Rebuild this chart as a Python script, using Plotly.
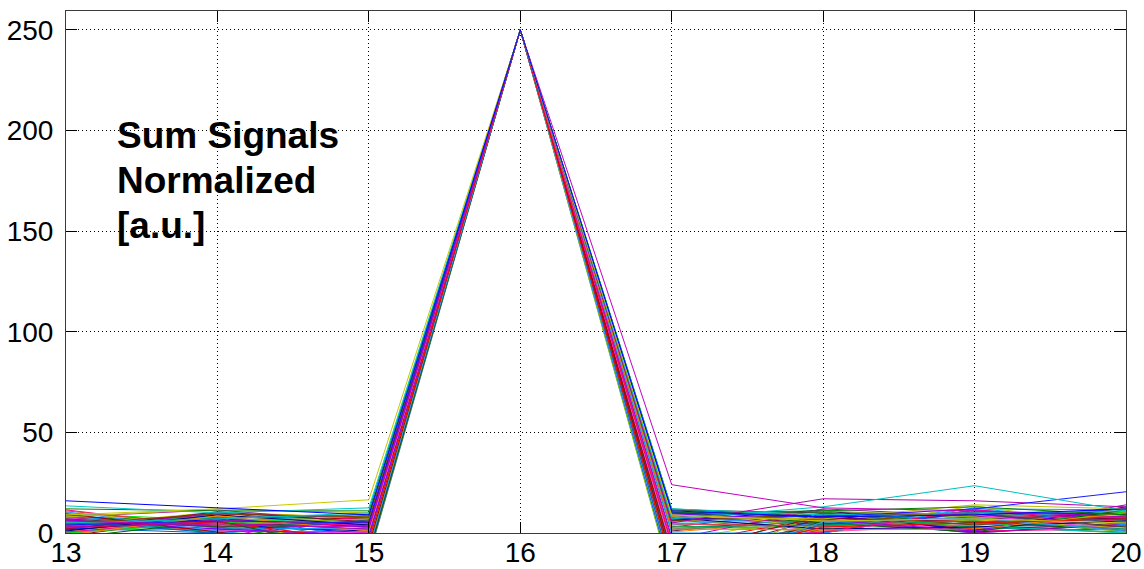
import plotly.graph_objects as go

# Sample positions along the x axis
x_positions = [13, 14, 15, 16, 17, 18, 19, 20]

# Normalized sum-signal value of every trace at each x position
at_13 = [16.0, 9.0, 6.0, 5.0, 4.0, 3.0, 13.5, 12.0,
         8.0, 2.5, 7.0, -1.0, 10.5, 4.5, 0.5, 6.5,
         3.5, 9.5, 1.0, 5.5, -2.5, 8.5, 2.0, 11.0,
         0.0, 7.5, 4.0, 6.0, 1.5, 10.0, 3.0, -0.5,
         5.0, 8.0, 2.5, 9.0, 0.5, 6.5, 3.5, 7.0,
         1.0, 4.5, 11.5, 2.0, 5.5, -1.5, 8.5, 3.0,
         6.0, 0.0, 7.5, 4.0, 9.5, 1.5, 5.0, 2.5,
         10.0, 3.5, 6.5, 0.5, 7.0, 2.0, 4.5, 8.0]
at_14 = [12.5, 12.0, 4.0, 7.0, 6.0, 5.0, 10.0, 11.0,
         12.0, 5.5, 3.0, 8.5, 1.0, 9.5, 6.5, 2.0,
         7.5, 0.5, 9.0, 4.5, 6.0, 2.5, 10.5, 3.5,
         5.0, 1.5, 8.0, 0.0, 7.0, 4.0, 9.5, 6.5,
         2.0, 11.5, 5.5, 3.0, 8.5, 1.0, 7.5, 4.5,
         9.0, 6.0, 2.5, 10.0, 0.5, 8.0, 3.5, 5.0,
         1.5, 7.0, 4.0, 9.5, 6.5, 2.0, 8.5, 0.0,
         4.5, 10.5, 3.0, 7.5, 5.5, 9.0, 1.0, 6.0]
at_15 = [9.0, 16.5, 3.0, 10.0, 5.0, 2.0, 12.5, 11.0,
         10.0, -4.0, 6.0, 1.0, -8.0, 8.0, 3.5, -1.0,
         9.0, -6.0, 4.0, 7.0, -10.0, 2.0, 5.5, -3.0,
         8.5, 0.0, -12.0, 6.5, 3.0, -5.0, 7.5, 1.5,
         -2.0, 5.0, 9.5, -7.0, 4.5, 0.5, -9.0, 6.0,
         2.5, -11.0, 8.0, 3.5, -3.5, 7.0, 1.0, -6.5,
         5.5, -1.5, 4.0, -8.5, 6.5, 2.0, -4.5, 9.0,
         0.0, 7.5, -10.5, 3.0, 5.0, -2.5, 8.0, 1.5]
at_16 = [250.0] * len(at_13)
at_17 = [11.0, 9.0, 24.0, 7.0, 10.0, 5.0, 12.0, 10.0,
         8.0, -15.0, 11.5, 2.0, -20.0, 6.0, -5.0, 9.5,
         3.0, -10.0, 7.5, -23.0, 10.5, 0.0, -13.0, 4.5,
         8.5, -8.0, 1.5, -18.0, 6.5, 11.0, -3.0, 5.5,
         -21.0, 9.0, 2.5, -12.0, 7.0, -6.0, 10.0, 0.5,
         4.0, -16.0, 8.0, -2.0, 11.5, -9.0, 6.0, 3.5,
         -19.0, 7.5, 1.0, -11.0, 9.5, 5.0, -14.0, 2.0,
         10.5, -4.0, 6.5, -22.0, 8.5, 3.0, -7.0, 12.0]
at_18 = [8.0, 6.0, 12.5, 13.0, 8.0, 17.0, 9.0, 11.0,
         7.0, 3.0, 10.0, 1.5, 5.5, 9.5, 0.5, 6.5,
         4.0, 8.5, 2.0, 11.0, 5.0, 0.0, 7.5, 3.5,
         10.5, 1.0, 6.0, 4.5, 9.0, 2.5, 12.0, 5.5,
         0.5, 7.0, 3.0, 10.0, 1.5, 8.0, 4.0, 6.5,
         9.5, 2.0, 5.0, 0.0, 7.5, 3.5, 11.5, 1.0,
         6.0, 4.5, 8.5, 2.5, 10.0, 0.5, 5.5, 7.0,
         3.0, 9.0, 1.5, 6.5, 4.0, 11.0, 2.0, 8.0]
at_19 = [9.0, 7.0, 11.0, 23.5, 12.0, 16.0, 10.0, 13.0,
         14.0, 5.0, 9.5, 2.0, 7.5, 4.0, 11.5, 1.0,
         6.0, 10.0, 3.0, 8.0, 0.5, 12.5, 5.5, 7.0,
         2.5, 9.0, 4.5, 11.0, 1.5, 6.5, 8.5, 3.5,
         10.5, 0.0, 7.5, 5.0, 13.5, 2.0, 9.5, 6.0,
         4.0, 8.0, 1.0, 11.5, 3.0, 7.0, 0.5, 10.0,
         5.5, 12.0, 2.5, 8.5, 6.5, 4.5, 9.0, 1.5,
         7.5, 3.5, 10.5, 0.0, 8.0, 5.0, 2.0, 6.0]
at_20 = [12.0, 5.0, 8.0, 11.0, 20.5, 13.0, 11.0, 9.0,
         12.0, 7.0, 3.0, 10.0, 1.0, 8.5, 5.5, 14.0,
         2.0, 9.5, 6.0, 0.5, 11.5, 4.0, 7.5, 3.5,
         10.5, 1.5, 8.0, 5.0, 13.0, 2.5, 6.5, 0.0,
         9.0, 4.5, 11.0, 7.0, 3.0, 12.5, 1.0, 8.5,
         5.5, 10.0, 2.0, 6.5, 0.5, 9.5, 4.0, 7.5,
         1.5, 11.5, 3.5, 8.0, 6.0, 2.5, 10.5, 5.0,
         7.0, 0.0, 9.0, 4.5, 12.0, 3.0, 6.5, 1.0]

y_ticks = [0, 50, 100, 150, 200, 250]
label_lines = ["Sum Signals", "Normalized", "[a.u.]"]

# Line colours, cycled over the traces
palette = ["#0000ff", "#c8c800", "#c000c0", "#00bfbf", "#1a1aff", "#b000b0",
           "#00c8c8", "#008000", "#bfbf00", "#ff0000", "#404040", "#ff8000",
           "#3399ff", "#804000", "#ff0080", "#8000ff", "#00a060", "#a00000",
           "#000080", "#80c000", "#006000", "#00a0ff", "#800040", "#e04040",
           "#00e000", "#ff40ff", "#408080", "#0060c0"]

columns = [at_13, at_14, at_15, at_16, at_17, at_18, at_19, at_20]
n_traces = len(at_13)

fig = go.Figure()
for i in reversed(range(n_traces)):
    fig.add_trace(go.Scatter(
        x=x_positions,
        y=[col[i] for col in columns],
        mode="lines",
        line=dict(color=palette[i % len(palette)], width=1),
        showlegend=False,
        hoverinfo="skip",
    ))

label_y = [197.5, 175.3, 153.0]
for text, yv in zip(label_lines, label_y):
    fig.add_annotation(
        x=13.325, y=yv, xref="x", yref="y",
        text=text, showarrow=False,
        xanchor="left", yanchor="middle",
        font=dict(family="Liberation Sans, Arial, sans-serif", size=37, color="#000000",
                  weight="bold"),
    )

axis_common = dict(
    automargin=False,
    showgrid=True,
    gridcolor="#000000",
    gridwidth=1,
    griddash="1px,3px",
    zeroline=False,
    showline=True,
    linecolor="#3a3a3a",
    linewidth=1,
    mirror="ticks",
    ticks="inside",
    ticklen=11,
    tickcolor="#000000",
    tickwidth=1,
    tickfont=dict(family="Liberation Sans, Arial, sans-serif", size=28, color="#000000"),
)

fig.update_xaxes(range=[13, 20], tickvals=x_positions, ticktext=[str(v) for v in x_positions],
                 ticklabelstandoff=-6, **axis_common)
fig.update_yaxes(range=[0, 259.4], tickvals=y_ticks, ticktext=[str(v) for v in y_ticks],
                 ticklabelstandoff=6, **axis_common)

fig.update_layout(
    width=1144, height=569,
    margin=dict(l=66, r=18, t=11, b=36),
    plot_bgcolor="#ffffff",
    paper_bgcolor="#ffffff",
)

fig.write_html("out.html")
